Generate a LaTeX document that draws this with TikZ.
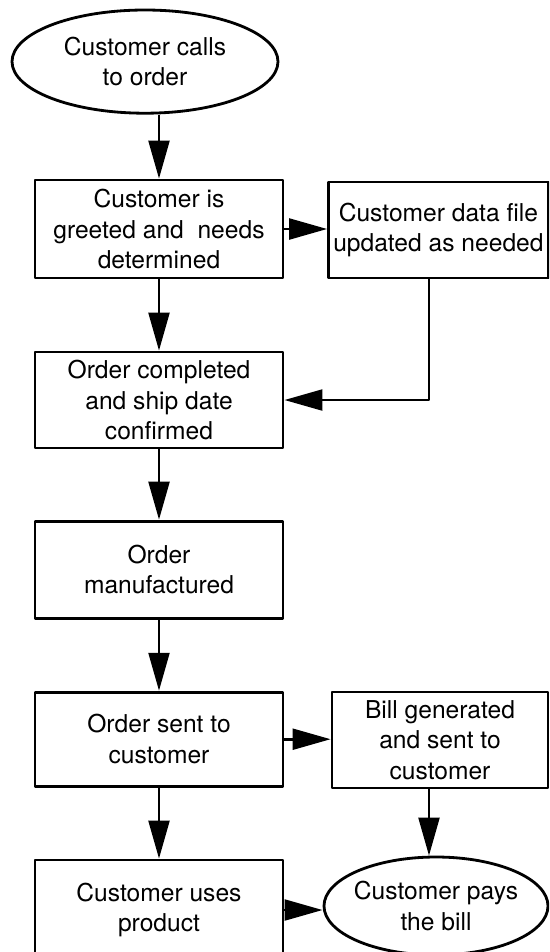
\documentclass[tikz,border=0pt]{standalone}
\usepackage{fontspec}
\setmainfont{TeX Gyre Heros}
\usetikzlibrary{arrows.meta,shapes.geometric}
\tikzset{
  every picture/.style={line join=round, >={Triangle[length=0.95cm,width=0.52cm]}},
  stepbox/.style={draw, line width=2pt, rectangle, align=center, minimum width=6.2cm},
  endbox/.style={draw, line width=2pt, ellipse, align=center, inner sep=0pt, inner xsep=-0.15cm},
  flow/.style={->, line width=2pt},
}

\begin{document}
\begin{tikzpicture}[font=\fontsize{17.5}{21.7}\selectfont]
\clip (0,0) rectangle (13.725,-23.8);
% left column
\node[endbox, minimum width=6.65cm, minimum height=2.58cm](call) at (3.625,-1.54) {Customer calls\\to order};
\node[stepbox, minimum height=2.45cm](greet) at (3.975,-5.725) {Customer is\\greeted and~~needs\\determined};
\node[stepbox, minimum height=2.4cm](confirm) at (3.975,-10.0) {Order completed\\and ship date\\confirmed};
\node[stepbox, minimum height=2.425cm](make) at (3.975,-14.24) {Order\\manufactured};
\node[stepbox, minimum height=2.35cm](send) at (3.975,-18.48) {Order sent to\\customer};
\node[stepbox, minimum height=2.5cm](use) at (3.975,-22.75) {Customer uses\\product};
% right column
\node[stepbox, minimum width=5.475cm, minimum height=2.4cm](datafile) at (10.96,-5.75) {Customer data file\\updated as needed};
\node[stepbox, minimum width=5.4cm, minimum height=2.4cm](bill) at (11.0,-18.5) {Bill generated\\and sent to\\customer};
\node[endbox, minimum width=5.6cm, minimum height=2.45cm](pay) at (10.9,-22.65) {Customer pays\\the bill};

\draw[flow] (call.south -| greet.north) -- (greet.north);
\draw[flow] (greet.east) -- (greet.east -| datafile.west);
\draw[flow] (greet) -- (confirm);
\draw[flow] ([xshift=-0.235cm]datafile.south) |- (confirm.east);
\draw[flow] (confirm) -- (make);
\draw[flow] (make) -- (send);
\draw[flow] (send.east) -- (send.east -| bill.west);
\draw[flow] (send) -- (use);
\draw[flow] ([xshift=-0.275cm]bill.south) -- ([xshift=-0.275cm]bill.south |- pay.north);
\draw[flow] (use.east) -- (use.east -| pay.west);
\end{tikzpicture}
\end{document}
